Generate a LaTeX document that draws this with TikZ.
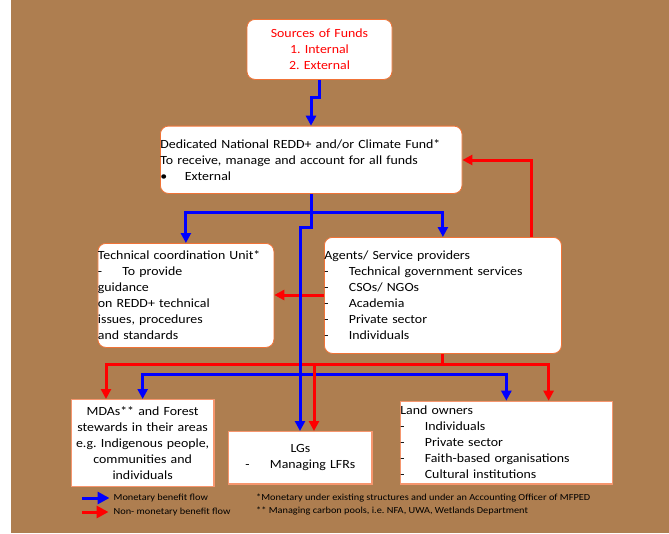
\documentclass[tikz,border=0pt]{standalone}
\usepackage{fontspec}
\setmainfont{Carlito}[FakeStretch=1.11]
\usetikzlibrary{arrows.meta}
\definecolor{bg}{RGB}{174,126,80}
\definecolor{bord}{RGB}{240,115,55}
\definecolor{bordsq}{RGB}{246,150,110}
\newcommand{\itm}[2]{\makebox[24.5pt][l]{#1}#2}
\frenchspacing
\begin{document}
\begin{tikzpicture}[x=1pt,y=-1pt,
  rbox/.style={draw=bord, line width=0.8pt, fill=white, rounded corners=8pt, inner sep=0pt, anchor=north west, font=\fontsize{12.5}{16}\selectfont},
  sbox/.style={draw=bordsq, line width=1.3pt, fill=white, inner sep=0pt, anchor=north west, font=\fontsize{12.5}{16}\selectfont},
  lineB/.style={draw=blue, line width=3pt},
  lineR/.style={draw=red, line width=3pt},
  flowB/.style={lineB, -{Triangle[length=10pt,width=10pt]}},
  flowR/.style={lineR, -{Triangle[length=10pt,width=10pt]}},
  legB/.style={draw=blue, line width=3pt, -{Triangle[length=12pt,width=12pt]}},
  legR/.style={draw=red, line width=3pt, -{Triangle[length=12pt,width=12pt]}},
  small/.style={inner sep=0pt, anchor=west, font=\fontsize{9.3}{13}\selectfont}
]
\useasboundingbox (0,0) rectangle (669,533);
\fill[bg] (11,0) rectangle (669,533);

% boxes
\node[rbox, text width=145pt, minimum height=60pt, align=center, text=red] (src) at (246.6,19)
  {Sources of Funds\\ 1. Internal\\ 2. External};
\node[rbox, text width=301.6pt, minimum height=67.3pt, align=left] (ded) at (160,125.7)
  {Dedicated National REDD+ and/or Climate Fund*\\ To receive, manage and account for all funds\\ \itm{•}{External}};
\node[rbox, text width=176pt, minimum height=104pt, align=left] (tcu) at (97.5,243)
  {Technical coordination Unit*\\ \itm{-}{To provide}\\ guidance\\ on REDD+ technical\\ issues, procedures\\ and standards};
\node[rbox, text width=237pt, minimum height=116pt, align=left] (ag) at (324,237)
  {Agents/ Service providers\\ \itm{-}{Technical government services}\\ \itm{-}{CSOs/ NGOs}\\ \itm{-}{Academia}\\ \itm{-}{Private sector}\\ \itm{-}{Individuals}};
\node[sbox, text width=142.8pt, minimum height=87pt, align=center] (mda) at (70.6,399)
  {MDAs** and Forest\\ stewards in their areas\\ e.g. Indigenous people,\\ communities and\\ individuals};
\node[sbox, text width=143.4pt, minimum height=52.3pt, align=center] (lgs) at (228,431)
  {LGs\\ \itm{-}{Managing LFRs}};
\node[sbox, text width=212pt, minimum height=82.6pt, align=left] (land) at (399.7,400.7)
  {Land owners\\ \itm{-}{Individuals}\\ \itm{-}{Private sector}\\ \itm{-}{Faith-based organisations}\\ \itm{-}{Cultural institutions}};

% coordinates
\coordinate (j1) at (311,97);
\coordinate (t1) at (311,212);
\coordinate (t2) at (311,227);
\coordinate (t3) at (300,227);
\coordinate (rL) at (106,364);
\coordinate (rR) at (548.6,364);
\coordinate (rM) at (314,364);
\coordinate (bM) at (300,374);
\coordinate (ra) at (300,295);
\coordinate (rr) at (531,160);

% red flows
\draw[flowR] (ag.west |- ra) -- (tcu.east |- ra);
\draw[flowR] (ag.north -| rr) -- (rr) -- (ded.east |- rr);
\draw[lineR] (ag.south) -- (ag.south |- rL);
\draw[flowR] (ag.south |- rL) -| (mda.north -| rL);
\draw[flowR] (ag.south |- rL) -| (land.north -| rR);

% blue flows
\draw[flowB] (src.south) -- (src.south |- j1) -- (j1) -- (ded.north -| j1);
\draw[lineB] (ded.south -| t1) -- (t1);
\draw[flowB] (t1) -| (tcu.north);
\draw[flowB] (t1) -| (ag.north);
\draw[flowB] (t1) -- (t2) -- (t3) -- (lgs.north -| t3);
\draw[flowB] (bM) -| (mda.north);
\draw[flowB] (bM) -| (land.north);

\draw[flowR] (rM) -- (lgs.north -| rM);

% legend
\node[small] (lg1) at (113.5,498) {Monetary benefit flow};
\node[small] (lg2) at (113.5,512) {Non- monetary benefit flow};
\coordinate (lb) at (82,498);
\coordinate (lr) at (82,512);
\draw[legB, shorten >=4pt] (lb) -- (lg1.west);
\draw[legR, shorten >=5pt] (lr) -- (lg2.west);

% footnotes
\node[small] (fn1) at (256,498) {*Monetary under existing structures and under an Accounting Officer of MFPED};
\node[small] (fn2) at (256,511) {** Managing carbon pools, i.e. NFA, UWA, Wetlands Department};
\end{tikzpicture}
\end{document}
